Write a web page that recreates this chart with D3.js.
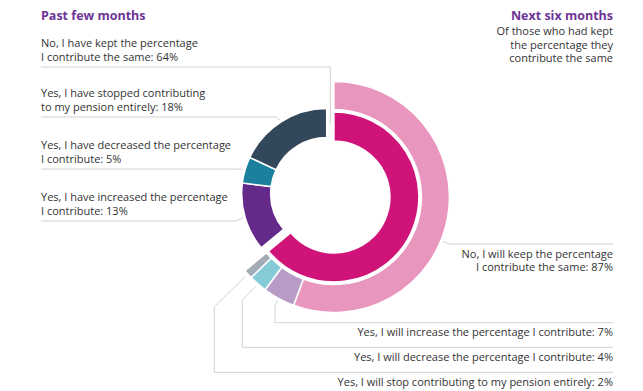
<!DOCTYPE html>
<html>
<head>
<meta charset="utf-8">
<script src="https://cdn.jsdelivr.net/npm/d3@7"></script>
<style>
  body { margin: 0; background: #fff; }
  text { font-family: "Open Sans", sans-serif; }
</style>
</head>
<body>
<svg id="chart" width="643" height="391"></svg>
<script>
// Past few months: answers, in clockwise order from 12 o'clock
const pastCategories = [
  "No, I have kept the percentage I contribute the same",
  "Yes, I have increased the percentage I contribute",
  "Yes, I have decreased the percentage I contribute",
  "Yes, I have stopped contributing to my pension entirely"
];
const pastValues = [64, 13, 5, 18];
const pastColors = ["#cf1378", "#642a8a", "#1a809e", "#33475b"];

// Next six months: split of the "kept the same" group
const nextCategories = [
  "No, I will keep the percentage I contribute the same",
  "Yes, I will increase the percentage I contribute",
  "Yes, I will decrease the percentage I contribute",
  "Yes, I will stop contributing to my pension entirely"
];
const nextValues = [87, 7, 4, 2];
const nextColors = ["#e896bd", "#b89bc7", "#86cbd8", "#a3acb4"];

// ---- layout ----
const svg = d3.select("#chart");
const cx = 326.7, cy = 193.6;
const r1 = [56, 85];      // inner ring
const r2 = [87.5, 115.5]; // outer ring
const explode = 8;        // offset of the "kept the same" slice and its breakdown
const textColor = "#333333";
const lineColor = "#d2d2d2";
const titleColor = "#6d3596";
const fs = 11;
const lh = 13.5;

const pastPie = d3.pie().sort(null).value(d => d)(pastValues);
const kept = pastPie[0];
const nextPie = d3.pie().sort(null).value(d => d)
  .startAngle(kept.startAngle).endAngle(kept.endAngle)(nextValues);

const keptMid = (kept.startAngle + kept.endAngle) / 2;
const off = [Math.sin(keptMid) * explode, -Math.cos(keptMid) * explode];

const pointAt = (a, r, o = [0, 0]) => [cx + r * Math.sin(a) + o[0], cy - r * Math.cos(a) + o[1]];

const arc1 = d3.arc().innerRadius(r1[0]).outerRadius(r1[1]);
const arc2 = d3.arc().innerRadius(r2[0]).outerRadius(r2[1]);

const line = d3.line();
const leaders = svg.append("g")
  .attr("fill", "none").attr("stroke", lineColor).attr("stroke-width", 1);

// ---- left labels (past few months) ----
const leftX = 41;
const pastOrder = [0, 3, 2, 1];
const pastRuleY = [67, 117, 169, 221];
const pastElbowX = [null, 276, 233, 236];
const pastWrap = [6, 5, 6, 6];

pastOrder.forEach((idx, k) => {
  const s = pastPie[idx];
  const u = pastRuleY[k];
  let pts;
  if (idx === 0) {
    const a = pointAt(s.startAngle, (r1[0] + r1[1]) / 2, [off[0] / 2, off[1] / 2]);
    pts = [[leftX, u], [a[0], u], a];
  } else {
    const a = pointAt((s.startAngle + s.endAngle) / 2, r1[1] + 2);
    pts = [[leftX, u], [pastElbowX[k], u], a];
  }
  leaders.append("path").attr("d", line(pts));

  const words = pastCategories[idx].split(" ");
  const lines = [words.slice(0, pastWrap[k]).join(" "),
                 words.slice(pastWrap[k]).join(" ") + ": " + pastValues[idx] + "%"];
  lines.forEach((l, i) => svg.append("text")
    .attr("fill", textColor).attr("font-size", fs)
    .attr("x", leftX).attr("y", u - 20 + i * lh).text(l));
});

// ---- right labels (next six months) ----
const rightX = 613;
const nextRuleY = [244, 322.7, 347.3, 372.3];
const nextWrap = [6, 99, 99, 99];
const nextBendX = [450, 275, 242.3, 214.3];
const nextKneeY = [244, 306, 300, 306.7];

nextPie.forEach((s, i) => {
  const u = nextRuleY[i];
  let pts;
  if (i === 0) {
    const a = pointAt(s.startAngle + 0.56 * (s.endAngle - s.startAngle), r2[1] + 2, off);
    pts = [a, [nextBendX[i], u], [rightX, u]];
  } else {
    const a = pointAt((s.startAngle + s.endAngle) / 2, r2[1] + 3, off);
    pts = [a, [nextBendX[i], nextKneeY[i]], [nextBendX[i], u], [rightX, u]];
  }
  leaders.append("path").attr("d", line(pts));

  const words = nextCategories[i].split(" ");
  const first = words.slice(0, nextWrap[i]).join(" ");
  const rest = words.slice(nextWrap[i]).join(" ");
  const lines = rest ? [first, rest + ": " + nextValues[i] + "%"] : [first + ": " + nextValues[i] + "%"];
  lines.forEach((l, j) => svg.append("text")
    .attr("fill", textColor).attr("font-size", fs).attr("text-anchor", "end")
    .attr("x", rightX).attr("y", u + 13.5 + j * lh).text(l));
});

// ---- rings ----
const g = svg.append("g").attr("transform", `translate(${cx},${cy})`);

g.selectAll("path.past").data(pastPie).join("path")
  .attr("class", "past")
  .attr("d", arc1)
  .attr("fill", (d, i) => pastColors[i])
  .attr("stroke", "#fff").attr("stroke-width", 1.5)
  .attr("transform", (d, i) => i === 0 ? `translate(${off[0]},${off[1]})` : null);

g.append("g").attr("transform", `translate(${off[0]},${off[1]})`)
  .selectAll("path").data(nextPie).join("path")
  .attr("d", arc2)
  .attr("fill", (d, i) => nextColors[i])
  .attr("stroke", "#fff").attr("stroke-width", 1.5);

// ---- headings ----
svg.append("text").attr("x", leftX).attr("y", 19.5)
  .attr("fill", titleColor).attr("font-size", 12.5).attr("font-weight", 700)
  .text("Past few months");

svg.append("text").attr("x", rightX).attr("y", 19.5).attr("text-anchor", "end")
  .attr("fill", titleColor).attr("font-size", 12.5).attr("font-weight", 700)
  .text("Next six months");

["Of those who had kept", "the percentage they", "contribute the same"].forEach((l, i) =>
  svg.append("text").attr("fill", textColor).attr("font-size", fs).attr("text-anchor", "end")
    .attr("x", rightX).attr("y", 35 + i * lh).text(l));
</script>
</body>
</html>
